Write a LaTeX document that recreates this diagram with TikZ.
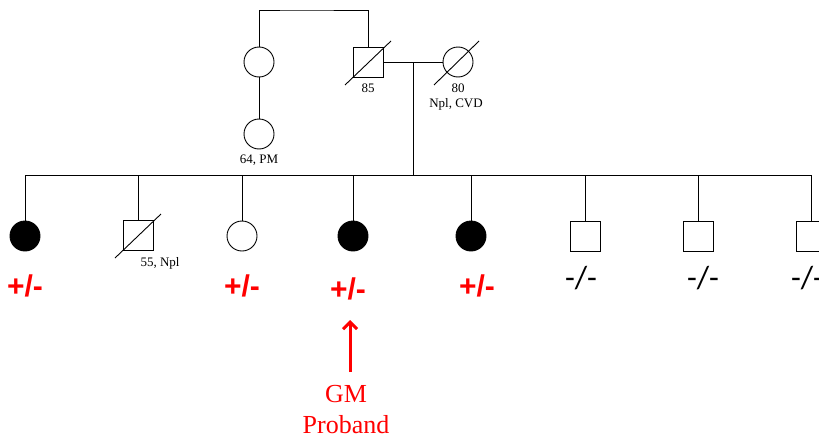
\documentclass[tikz,border=0pt]{standalone}
\usepackage{fontspec}
\setmainfont{Liberation Serif}
\setsansfont{Liberation Sans}
\newfontfamily\calfont{Carlito}
\usetikzlibrary{calc,arrows.meta}
\begin{document}
\begin{tikzpicture}[x=1pt,y=-1pt, line width=0.9pt,
 fem/.style={circle,draw,minimum size=30pt,inner sep=0pt},
 male/.style={rectangle,draw,minimum size=30pt,inner sep=0pt},
 aff/.style={fill=black},
 lbl/.style={font=\fontsize{13}{15}\selectfont,inner sep=0pt},
 hetlbl/.style={text=red,font=\sffamily\bfseries\fontsize{30}{32}\selectfont,inner sep=0pt},
 neglbl/.style={font=\calfont\fontsize{32}{34}\selectfont,inner sep=0pt},
 redtxt/.style={text=red,font=\fontsize{26}{31}\selectfont,align=center,inner sep=0pt},
 arr/.style={red,line width=3pt,-{Straight Barb[length=7pt,width=14pt]}},
 ]
\useasboundingbox (0,0) rectangle (819,439);
% generation I / II top
\node[fem] (a1) at (259,62) {};
\node[fem] (a2) at (259,134) {};
\node[male] (gf) at (368,62) {};
\node[fem] (gm) at (458,62) {};
\coordinate (top) at (300,10);
\draw (a1.north) |- (top) -| (gf.north);
\draw (a1.south) -- (a2.north);
\draw (gf.east) -- (gm.west);
\draw ($(gf.center)+(-23,23)$) -- ($(gf.center)+(23,-21)$);
\draw ($(gm.center)+(-24,23)$) -- ($(gm.center)+(21,-21)$);
\node[lbl] (l85) at (368,88) {85};
\node[lbl] (l80) at (458,88) {80};
\node[lbl] (lcvd) at (456,104) {Npl, CVD};
\node[lbl] (l64) at (259,160) {64, PM};
% sibship
\coordinate (m) at (413,62);
\coordinate (sib) at (413,175);
\coordinate (sL) at (25,175);
\coordinate (sR) at (811,175);
\draw (m) -- (sib);
\draw (sL) -- (sR);
% children
\node[fem,aff] (c1) at (25,236) {};
\node[male] (c2) at (138,235) {};
\node[fem] (c3) at (242,236) {};
\node[fem,aff] (c4) at (353,236) {};
\node[fem,aff] (c5) at (471,236) {};
\node[male] (c6) at (585,236) {};
\node[male] (c7) at (698,236) {};
\node[male] (c8) at (811,236) {};
\foreach \c in {c1,c2,c3,c4,c5,c6,c7,c8}{\draw (\c.north) -- (\c.north |- sib);}
\draw ($(c2.center)+(-23,23)$) -- ($(c2.center)+(23,-21)$);
\node[lbl] (l55) at (160,263) {55, Npl};
% genotypes
\node[hetlbl] (p1) at (25,286) {+/-};
\node[hetlbl] (p3) at (242,286) {+/-};
\node[hetlbl] (p4) at (348,289) {+/-};
\node[hetlbl] (p5) at (477,286) {+/-};
\node[neglbl] (n6) at (581,278) {-/-};
\node[neglbl] (n7) at (703,278) {-/-};
\node[neglbl] (n8) at (807,278) {-/-};
% proband
\node[redtxt] (pb) at (346,410) {GM\\Proband};
\coordinate (ab) at (350,372);
\coordinate (at) at (350,320);
\draw[arr] (ab) -- (at);
\end{tikzpicture}
\end{document}
